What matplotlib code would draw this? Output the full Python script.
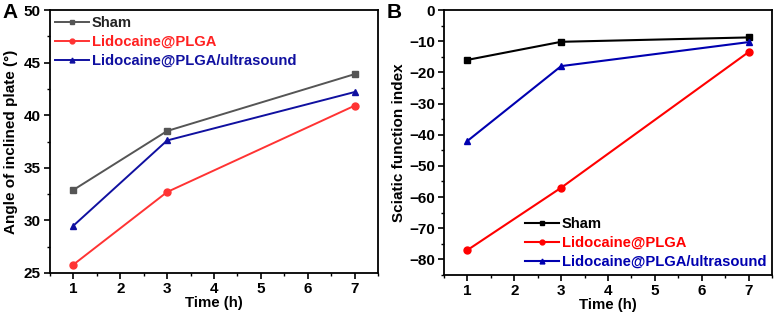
import matplotlib
matplotlib.use("Agg")
import matplotlib.pyplot as plt
from matplotlib.ticker import MultipleLocator

plt.rcParams['font.family'] = ['Liberation Sans', 'DejaVu Sans']
plt.rcParams['font.weight'] = 'bold'

time = [1, 3, 7]
labels = ["Sham", "Lidocaine@PLGA", "Lidocaine@PLGA/ultrasound"]

angle_sham = [32.9, 38.5, 43.9]
angle_lido = [25.8, 32.7, 40.9]
angle_us = [29.5, 37.6, 42.2]

sfi_sham = [-16.0, -10.2, -8.8]
sfi_lido = [-77.0, -57.0, -13.5]
sfi_us = [-42.0, -18.0, -10.3]

fig = plt.figure(figsize=(7.75, 3.15), dpi=100)
W, H = 775, 315
axA = fig.add_axes([50/W, 1-273/H, (378-50)/W, (273-10)/H])
axB = fig.add_axes([444/W, 1-275/H, (772-444)/W, (275-10)/H])

markers = ['s', 'o', '^']

def style(ax):
    for s in ax.spines.values():
        s.set_linewidth(1.3)
    ax.tick_params(which='major', direction='out', length=4, width=1.2, labelsize=11, pad=2.5)
    ax.tick_params(which='minor', direction='out', length=2.5, width=1.0)
    ax.tick_params(top=False, right=False)
    ax.set_xlim(0.5, 7.5)
    ax.xaxis.set_major_locator(MultipleLocator(1))
    ax.xaxis.set_minor_locator(MultipleLocator(0.5))
    ax.set_xlabel("Time (h)", fontsize=10.8, fontweight='bold', labelpad=0)

leg_kw = dict(frameon=False, fontsize=10.6, handlelength=2.3, handletextpad=0.2,
              labelspacing=0.35, borderaxespad=0.0, borderpad=0.4, markerscale=0.7)

# Panel A
colsA = ['#555555', '#ff3333', '#1010a0']
txtA = ['#222222', '#ff2020', '#1010a0']
for ys, c, m, lab in zip([angle_sham, angle_lido, angle_us], colsA, markers, labels):
    axA.plot(time, ys, color=c, marker=m, markersize=5, lw=1.4, label=lab)
style(axA)
axA.set_ylim(25, 50)
axA.yaxis.set_major_locator(MultipleLocator(5))
axA.yaxis.set_minor_locator(MultipleLocator(2.5))
axA.set_ylabel("Angle of inclined plate (°)", fontsize=11, fontweight='bold', labelpad=4)
legA = axA.legend(loc='upper left', bbox_to_anchor=(-0.003, 1.0), **leg_kw)
for t, c in zip(legA.get_texts(), txtA):
    t.set_color(c)
    t.set_fontweight('bold')
fig.text(2/W, 1-13/H, "A", fontsize=15, fontweight='bold', va='center', ha='left')

# Panel B
colsB = ['#000000', '#ff0000', '#0000b0']
for ys, c, m, lab in zip([sfi_sham, sfi_lido, sfi_us], colsB, markers, labels):
    axB.plot(time, ys, color=c, marker=m, markersize=5, lw=1.5, label=lab)
style(axB)
axB.set_ylim(-85, 0)
axB.yaxis.set_major_locator(MultipleLocator(10))
axB.yaxis.set_minor_locator(MultipleLocator(5))
axB.set_ylabel("Sciatic function index", fontsize=11, fontweight='bold', labelpad=2)
legB = axB.legend(loc='lower left', bbox_to_anchor=(0.229, 0.0), **leg_kw)
for t, c in zip(legB.get_texts(), colsB):
    t.set_color(c)
    t.set_fontweight('bold')
fig.text(387/W, 1-13/H, "B", fontsize=15, fontweight='bold', va='center', ha='left')

fig.savefig("out.png", dpi=100)
